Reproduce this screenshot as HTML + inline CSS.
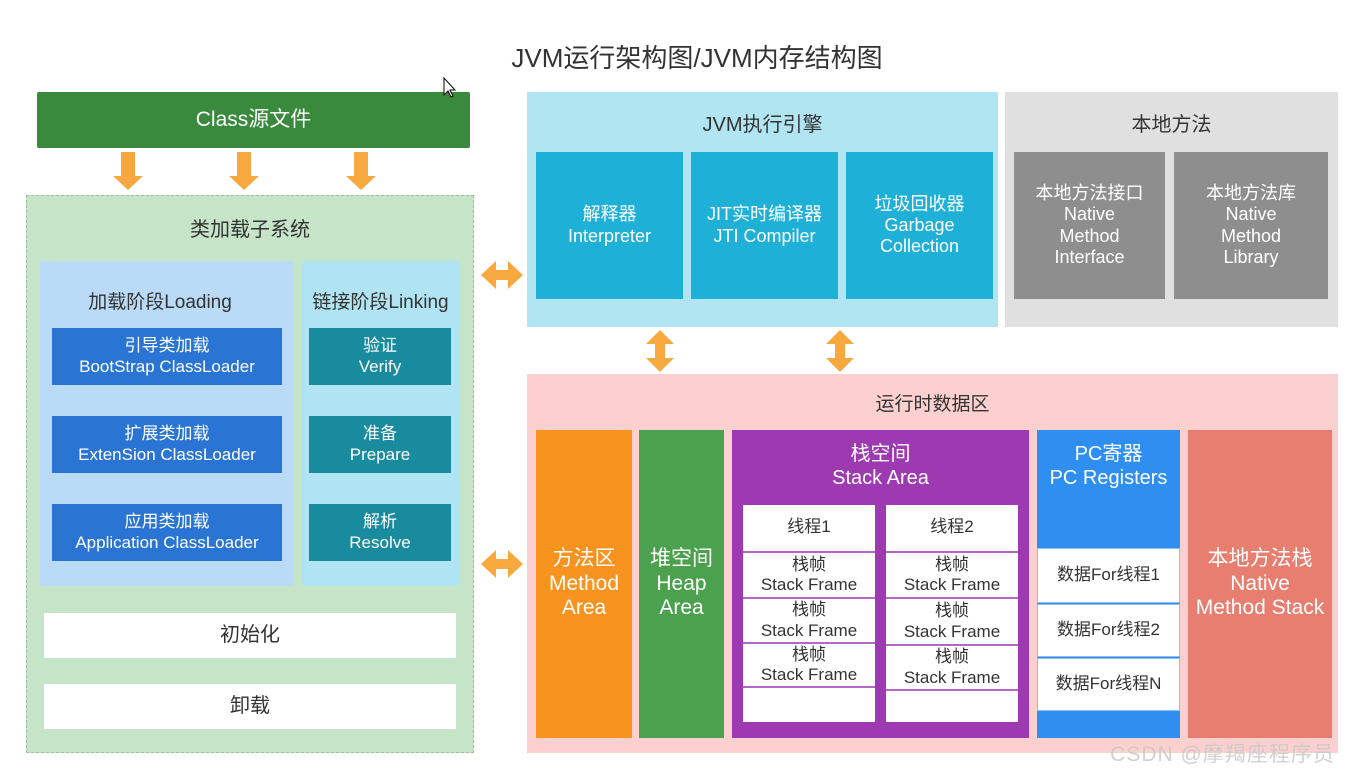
<!DOCTYPE html>
<html><head><meta charset="utf-8"><style>
body{margin:0;width:1359px;height:777px;background:#fff;position:relative;overflow:hidden;font-family:"Liberation Sans","Noto Sans CJK SC",sans-serif;}
.b{position:absolute;display:flex;align-items:center;justify-content:center;text-align:center;box-sizing:border-box;line-height:1.18;}
.t{position:absolute;text-align:center;}
.w{color:#fff}
</style></head><body>
<div class="t" style="left:400px;width:594px;top:38px;font-size:26px;color:#333">JVM运行架构图/JVM内存结构图</div>

<div class="b w" style="left:37px;top:92px;width:433px;height:56px;background:#3a8a3e;font-size:21px;border-radius:2px">Class源文件</div>

<div style="position:absolute;left:26px;top:195px;width:448px;height:558px;background:#c6e4c8;border:1.5px dashed #9bbf9d;box-sizing:border-box"></div>
<div class="t" style="left:26px;width:448px;top:213px;font-size:20px;color:#333">类加载子系统</div>
<div style="position:absolute;left:40px;top:261px;width:254px;height:325px;background:#b9dbf7"></div>
<div style="position:absolute;left:301px;top:261px;width:159px;height:325px;background:#b0e4f2"></div>
<div class="t" style="left:40px;width:240px;top:287px;font-size:19px;color:#333">加载阶段Loading</div>
<div class="t" style="left:301px;width:159px;top:287px;font-size:19px;color:#333">链接阶段Linking</div>
<div class="b w" style="left:52px;top:328px;width:230px;height:57px;background:#2a74d3;font-size:17px">引导类加载<br>BootStrap ClassLoader</div>
<div class="b w" style="left:52px;top:416px;width:230px;height:57px;background:#2a74d3;font-size:17px">扩展类加载<br>ExtenSion ClassLoader</div>
<div class="b w" style="left:52px;top:504px;width:230px;height:57px;background:#2a74d3;font-size:17px">应用类加载<br>Application ClassLoader</div>
<div class="b w" style="left:309px;top:328px;width:142px;height:57px;background:#198b9f;font-size:17px">验证<br>Verify</div>
<div class="b w" style="left:309px;top:416px;width:142px;height:57px;background:#198b9f;font-size:17px">准备<br>Prepare</div>
<div class="b w" style="left:309px;top:504px;width:142px;height:57px;background:#198b9f;font-size:17px">解析<br>Resolve</div>
<div class="b" style="left:44px;top:613px;width:412px;height:45px;background:#fff;font-size:20px;color:#333">初始化</div>
<div class="b" style="left:44px;top:684px;width:412px;height:45px;background:#fff;font-size:20px;color:#333">卸载</div>

<div style="position:absolute;left:527px;top:92px;width:471px;height:235px;background:#b2e5f2"></div>
<div class="t" style="left:527px;width:471px;top:108px;font-size:20px;color:#333">JVM执行引擎</div>
<div class="b w" style="left:536px;top:152px;width:147px;height:147px;background:#1fb0d8;font-size:18px">解释器<br>Interpreter</div>
<div class="b w" style="left:691px;top:152px;width:147px;height:147px;background:#1fb0d8;font-size:18px">JIT实时编译器<br>JTI Compiler</div>
<div class="b w" style="left:846px;top:152px;width:147px;height:147px;background:#1fb0d8;font-size:18px">垃圾回收器<br>Garbage<br>Collection</div>

<div style="position:absolute;left:1005px;top:92px;width:333px;height:235px;background:#e0e0e0"></div>
<div class="t" style="left:1005px;width:333px;top:108px;font-size:20px;color:#333">本地方法</div>
<div class="b w" style="left:1014px;top:152px;width:151px;height:147px;background:#8e8e8e;font-size:18px">本地方法接口<br>Native<br>Method<br>Interface</div>
<div class="b w" style="left:1174px;top:152px;width:154px;height:147px;background:#8e8e8e;font-size:18px">本地方法库<br>Native<br>Method<br>Library</div>

<div style="position:absolute;left:527px;top:374px;width:811px;height:379px;background:#fdd0d0"></div>
<div class="t" style="left:527px;width:811px;top:389px;font-size:19px;color:#333">运行时数据区</div>
<div class="b w" style="left:536px;top:430px;width:96px;height:308px;background:#f7931e;font-size:21px">方法区<br>Method<br>Area</div>
<div class="b w" style="left:639px;top:430px;width:85px;height:308px;background:#4ca14f;font-size:21px">堆空间<br>Heap<br>Area</div>
<div style="position:absolute;left:732px;top:430px;width:297px;height:308px;background:#9e3ab1"></div>
<div class="t w" style="left:732px;width:297px;top:442px;font-size:20px;line-height:1.2">栈空间<br>Stack Area</div>
<div style="position:absolute;left:1037px;top:430px;width:143px;height:308px;background:#2f8ff0"></div>
<div class="t w" style="left:1037px;width:143px;top:442px;font-size:20px;line-height:1.2">PC寄器<br>PC Registers</div>
<div class="b w" style="left:1188px;top:430px;width:144px;height:308px;background:#e87e70;font-size:21px">本地方法栈<br>Native<br>Method Stack</div>

<div style="position:absolute;left:743px;top:505px;width:132px;height:217px;background:#fff"></div>
<div style="position:absolute;left:886px;top:505px;width:132px;height:217px;background:#fff"></div>
<div class="b" style="left:743px;top:505px;width:132px;height:45px;font-size:17px;color:#333">线程1</div>
<div class="b" style="left:743px;top:551px;width:132px;height:46px;font-size:17px;color:#333;border-top:2px solid #b566c6">栈帧<br>Stack Frame</div>
<div class="b" style="left:743px;top:597px;width:132px;height:45px;font-size:17px;color:#333;border-top:2px solid #b566c6">栈帧<br>Stack Frame</div>
<div class="b" style="left:743px;top:642px;width:132px;height:46px;font-size:17px;color:#333;border-top:2px solid #b566c6;border-bottom:2px solid #b566c6">栈帧<br>Stack Frame</div>
<div class="b" style="left:886px;top:505px;width:132px;height:45px;font-size:17px;color:#333">线程2</div>
<div class="b" style="left:886px;top:551px;width:132px;height:46px;font-size:17px;color:#333;border-top:2px solid #b566c6">栈帧<br>Stack Frame</div>
<div class="b" style="left:886px;top:597px;width:132px;height:47px;font-size:17px;color:#333;border-top:2px solid #b566c6">栈帧<br>Stack Frame</div>
<div class="b" style="left:886px;top:644px;width:132px;height:47px;font-size:17px;color:#333;border-top:2px solid #b566c6;border-bottom:2px solid #b566c6">栈帧<br>Stack Frame</div>

<div class="b" style="left:1037px;top:548px;width:143px;height:55px;background:#fff;font-size:17px;color:#333;border:1px solid #8fc0f0">数据For线程1</div>
<div class="b" style="left:1037px;top:604px;width:143px;height:53px;background:#fff;font-size:17px;color:#333;border:1px solid #8fc0f0">数据For线程2</div>
<div class="b" style="left:1037px;top:658px;width:143px;height:53px;background:#fff;font-size:17px;color:#333;border:1px solid #8fc0f0">数据For线程N</div>

<svg width="1359" height="777" style="position:absolute;left:0;top:0" fill="#f7a940">
<polygon points="121,152 135,152 135,176 143,176 128,190 113,176 121,176"/>
<polygon points="237,152 251,152 251,176 259,176 244,190 229,176 237,176"/>
<polygon points="354,152 368,152 368,176 376,176 361,190 346,176 354,176"/>
<polygon points="481,275 496,261 496,270 508,270 508,261 523,275 508,289 508,280 496,280 496,289"/>
<polygon points="481,564 496,550 496,559 508,559 508,550 523,564 508,578 508,569 496,569 496,578"/>
<polygon points="660,330 674,344 665,344 665,358 674,358 660,372 646,358 655,358 655,344 646,344"/>
<polygon points="840,330 854,344 845,344 845,358 854,358 840,372 826,358 835,358 835,344 826,344"/>
<path d="M444,78 L444,95 L448,91 L451,97 L453,96 L450,90 L455,90 Z" fill="#fff" stroke="#000" stroke-width="1"/>
</svg>
<div class="t" style="left:1090px;width:265px;top:738px;font-size:21px;color:rgba(200,200,200,0.85);letter-spacing:1px">CSDN @摩羯座程序员</div>
</body></html>
